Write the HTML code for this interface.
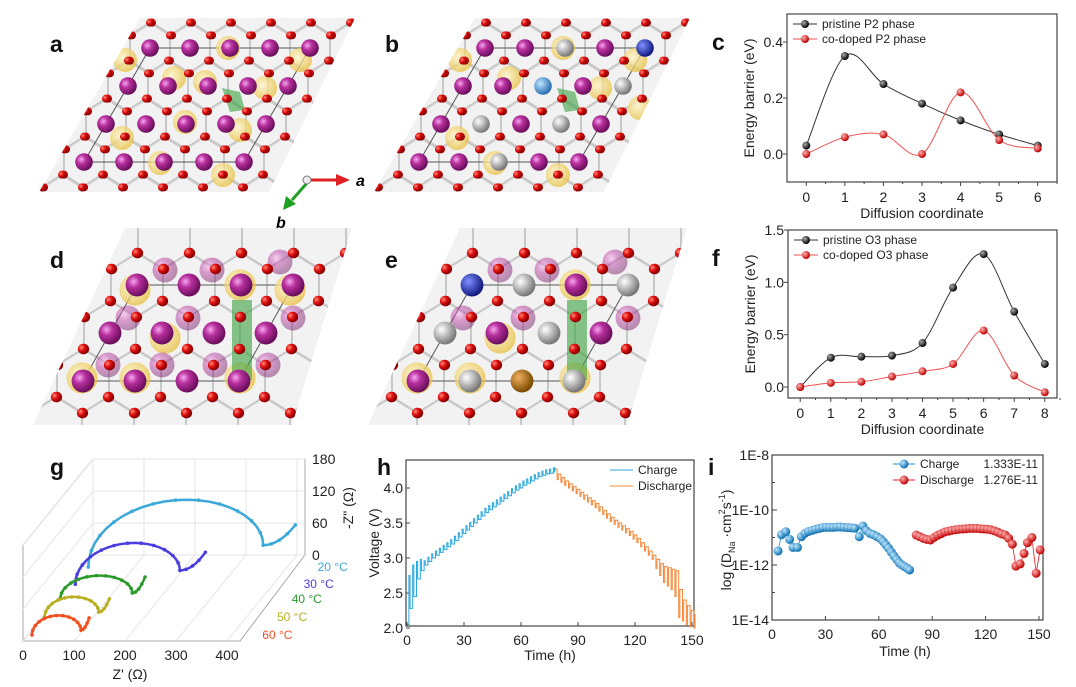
<!DOCTYPE html>
<html><head><meta charset="utf-8">
<style>
html,body{margin:0;padding:0;background:#fff;}
svg{display:block;font-family:"Liberation Sans",Arial,sans-serif;}
.tk{font-size:14px;fill:#222;}
.ttl{font-size:14px;fill:#222;}
.lab{font-size:23px;font-weight:bold;fill:#111;}
.leg{font-size:12px;fill:#222;}
</style></head>
<body>
<svg id="fig" width="1076" height="687" viewBox="0 0 1076 687" xmlns="http://www.w3.org/2000/svg">
<defs>
<radialGradient id="gPur" cx="35%" cy="35%" r="65%"><stop offset="0" stop-color="#f6a8f0"/><stop offset="0.4" stop-color="#b8309e"/><stop offset="1" stop-color="#6a0f5c"/></radialGradient>
<radialGradient id="gRed" cx="35%" cy="35%" r="65%"><stop offset="0" stop-color="#ff8a7a"/><stop offset="0.5" stop-color="#e01010"/><stop offset="1" stop-color="#8a0000"/></radialGradient>
<radialGradient id="gYel" cx="40%" cy="40%" r="60%"><stop offset="0" stop-color="#fff6c8"/><stop offset="1" stop-color="#e8c040"/></radialGradient>
<radialGradient id="gWht" cx="35%" cy="35%" r="65%"><stop offset="0" stop-color="#ffffff"/><stop offset="1" stop-color="#777"/></radialGradient>
<radialGradient id="gBlu" cx="35%" cy="35%" r="65%"><stop offset="0" stop-color="#bfe6ff"/><stop offset="1" stop-color="#2a70b0"/></radialGradient>
<radialGradient id="gDBlu" cx="35%" cy="35%" r="65%"><stop offset="0" stop-color="#8090ff"/><stop offset="1" stop-color="#101a80"/></radialGradient>
<radialGradient id="gBrn" cx="35%" cy="35%" r="65%"><stop offset="0" stop-color="#f0b060"/><stop offset="1" stop-color="#7a4a00"/></radialGradient>
<radialGradient id="gCB" cx="35%" cy="35%" r="65%"><stop offset="0" stop-color="#bfe8ff"/><stop offset="1" stop-color="#0a6eb0"/></radialGradient>
<radialGradient id="gCR" cx="35%" cy="35%" r="65%"><stop offset="0" stop-color="#ffb0b0"/><stop offset="1" stop-color="#c00000"/></radialGradient>
<radialGradient id="gBk" cx="35%" cy="35%" r="65%"><stop offset="0" stop-color="#aaa"/><stop offset="1" stop-color="#000"/></radialGradient>
<clipPath id="clipA"><polygon points="140,18 355,18 269,192 39,192"/></clipPath>
<clipPath id="clipB"><polygon points="475,18 690,18 604,192 374,192"/></clipPath>
<clipPath id="clipD"><polygon points="125,228 352,228 292,425 33,425"/></clipPath>
<clipPath id="clipE"><polygon points="460,228 687,228 627,425 368,425"/></clipPath>
</defs>
<g id="root"></g>
</svg>
<script>
// ---------- Panel c data ----------
const cX = [0,1,2,3,4,5,6];
const cPristine = [0.03,0.35,0.25,0.18,0.12,0.07,0.03];
const cDoped = [0.0,0.06,0.07,0.0,0.22,0.05,0.02];
const cYTicks = [0.0,0.2,0.4];
// ---------- Panel f data ----------
const fX = [0,1,2,3,4,5,6,7,8];
const fPristine = [0.0,0.28,0.29,0.30,0.42,0.95,1.27,0.72,0.22];
const fDoped = [0.0,0.04,0.05,0.10,0.15,0.22,0.54,0.11,-0.05];
const fYTicks = [0.0,0.5,1.0,1.5];
// ---------- Panel g data ----------
const gTemps = ["20 °C","30 °C","40 °C","50 °C","60 °C"];
const gDepth = [0.86,0.66,0.49,0.28,0.07];
const gRs = [10,12,6,4,8];
const gRm = [353,217,147,110,104];
const gPeak = [105,64,38,33,32];
const gZmin = [41,26,11,9,9];
const gEndX = [416,267,172,131,120];
const gEndY = [79,60,41,34,32];
const gXTicks = [0,100,200,300,400];
const gYTicks = [0,60,120,180];
// ---------- Panel h data ----------
const hChargeT = [1,3,5,7,9,11,13,15,17,19,21,23,25,27,29,31,33,35,37,39,41,43,45,47,49,51,53,55,57,59,61,63,65,67,69,71,73,75,77];
const hChargeOcv = [2.28,2.45,2.7,2.82,2.9,2.95,3.0,3.04,3.08,3.12,3.16,3.2,3.25,3.3,3.35,3.4,3.45,3.5,3.55,3.6,3.65,3.69,3.73,3.77,3.81,3.85,3.89,3.93,3.97,4.0,4.04,4.07,4.1,4.13,4.16,4.18,4.2,4.21,4.22];
const hChargePeak = [2.75,2.9,2.95,2.98,2.96,3.01,3.06,3.1,3.14,3.18,3.22,3.26,3.31,3.36,3.41,3.46,3.51,3.56,3.61,3.66,3.71,3.75,3.79,3.83,3.87,3.91,3.95,3.99,4.03,4.06,4.1,4.13,4.16,4.19,4.22,4.24,4.26,4.27,4.29];
const hDisT = [79,81,83,85,87,89,91,93,95,97,99,101,103,105,107,109,111,113,115,117,119,121,123,125,127,129,131,133,135,137,139,141,143,145,147,149,151];
const hDisOcv = [4.2,4.15,4.1,4.06,4.02,3.98,3.94,3.9,3.86,3.82,3.78,3.73,3.68,3.63,3.58,3.54,3.5,3.46,3.42,3.38,3.33,3.28,3.22,3.16,3.1,3.04,2.98,2.92,2.88,2.86,2.84,2.82,2.55,2.4,2.32,2.25,2.2];
const hDisLow = [4.12,4.08,4.04,4.0,3.96,3.92,3.88,3.84,3.8,3.76,3.72,3.67,3.62,3.57,3.52,3.48,3.44,3.4,3.36,3.32,3.27,3.22,3.16,3.1,3.04,2.98,2.85,2.75,2.65,2.6,2.55,2.45,2.15,2.1,2.05,2.02,2.0];
const hXTicks = [0,30,60,90,120,150];
const hYTicks = [2.0,2.5,3.0,3.5,4.0];
// ---------- Panel i data ----------
const iChargeT = [3.4,5.3,7.7,9.9,11.8,14.3,16.5,18.5,20.5,22.5,24.5,26.5,28.5,30.5,32.5,34.5,36.5,38.5,40.5,42.5,44.5,46.5,49,51,53,55,57,59,61,62.5,64,65.5,67,68.5,70,71.5,73,74.5,76,77.3];
const iChargeLog = [-11.49,-10.9,-10.79,-11.07,-11.36,-11.36,-10.97,-10.85,-10.78,-10.74,-10.7,-10.67,-10.64,-10.63,-10.63,-10.63,-10.62,-10.62,-10.63,-10.64,-10.65,-10.66,-10.97,-10.58,-10.75,-10.85,-10.9,-10.97,-11.05,-11.15,-11.27,-11.39,-11.53,-11.67,-11.8,-11.92,-12.0,-12.06,-12.12,-12.18];
const iDisT = [81,83,85,87,89,91,93,95,97,99,101,103,105,107,109,111,113,115,117,119,121,123,125,127,129,131,133,135,137,139.4,141.6,143.5,146,148.4,150.6];
const iDisLog = [-10.91,-10.97,-11.03,-11.07,-11.09,-11.0,-10.92,-10.86,-10.8,-10.77,-10.74,-10.72,-10.7,-10.69,-10.68,-10.67,-10.67,-10.67,-10.68,-10.69,-10.7,-10.72,-10.76,-10.81,-10.87,-10.91,-11.03,-11.24,-12.04,-11.96,-11.58,-11.19,-11.0,-12.3,-11.45];
const iYTicks = [-8,-10,-12,-14];
const iYLabels = ["1E-8","1E-10","1E-12","1E-14"];
const iXTicks = [0,30,60,90,120,150];

const NS="http://www.w3.org/2000/svg";
const root=document.getElementById('root');
function mk(tag,attrs,parent,text){const e=document.createElementNS(NS,tag);for(const k in attrs)e.setAttribute(k,attrs[k]);if(text!==undefined)e.textContent=text;(parent||root).appendChild(e);return e;}
function grp(name,parent){const g=mk('g',{},parent);


return g;}
function spline(pts){let d='M'+pts[0][0]+','+pts[0][1];for(let i=0;i<pts.length-1;i++){const p0=pts[Math.max(0,i-1)],p1=pts[i],p2=pts[i+1],p3=pts[Math.min(pts.length-1,i+2)];const c1=[p1[0]+(p2[0]-p0[0])/6,p1[1]+(p2[1]-p0[1])/6],c2=[p2[0]-(p3[0]-p1[0])/6,p2[1]-(p3[1]-p1[1])/6];d+=' C'+c1[0]+','+c1[1]+' '+c2[0]+','+c2[1]+' '+p2[0]+','+p2[1];}return d;}

// ---------- Crystal panels (decorative) ----------
function crystal(name,clip,ox,oy,sp,rowH,shift,rows,cols,extras){
  const g=grp(name);
  g.setAttribute('clip-path','url(#'+clip+')');
  const hx=(r,c)=>ox+c*sp+r*shift, hy=(r)=>oy+r*rowH;
  const hexPts=(cx,cy)=>[[cx,cy-2*rowH/3],[cx+sp/2,cy-rowH/3],[cx+sp/2,cy+rowH/3],[cx,cy+2*rowH/3],[cx-sp/2,cy+rowH/3],[cx-sp/2,cy-rowH/3]];
  for(let r=-1;r<=rows;r++)for(let c=-2;c<=cols+1;c++){
    const cx=hx(r,c),cy=hy(r);
    const h=mk('polygon',{points:hexPts(cx,cy).map(p=>p.join(',')).join(' '),fill:'#ececec','fill-opacity':0.7,stroke:'#c8c8c8','stroke-width':2},g);
    
    
  }
  const x0=hx(0,0),y0=hy(0),x1=hx(0,cols-1),x2=hx(rows-1,cols-1),y2=hy(rows-1),x3=hx(rows-1,0);
  mk('polygon',{points:`${x0},${y0} ${x1},${y0} ${x2},${y2} ${x3},${y2}`,fill:'none',stroke:'#555','stroke-width':1},g);
  (extras.yellow||[]).forEach(p=>{const e=mk('circle',{cx:p[0],cy:p[1],r:sp*0.3,fill:'url(#gYel)','fill-opacity':0.75},g);
    
    });
  (extras.ghost||[]).forEach(p=>{mk('circle',{cx:p[0],cy:p[1],r:sp*0.24,fill:'url(#gPur)','fill-opacity':0.45},g);});
  if(extras.green){const e=mk('polygon',{points:extras.green,fill:'#3aa040','fill-opacity':0.6},g);
    
    }
  const sub=extras.sub||{};
  for(let r=0;r<rows;r++)for(let c=0;c<cols;c++){
    const key=r+','+c;const f=sub[key]||'url(#gPur)';
    const e=mk('circle',{cx:hx(r,c),cy:hy(r),r:sp*0.22,fill:f},g);
    
    
  }
  const seen={};
  for(let r=-1;r<=rows;r++)for(let c=-2;c<=cols+1;c++){
    hexPts(hx(r,c),hy(r)).forEach(p=>{const k=Math.round(p[0])+'_'+Math.round(p[1]);if(seen[k])return;seen[k]=1;
      const e=mk('circle',{cx:p[0],cy:p[1],r:sp*0.1,fill:'url(#gRed)'},g);
      
      });
  }
}
crystal('structure-a','clipA',150,48,40,38,-22,4,5,{yellow:[[228,48],[125,60],[300,60],[174,78],[205,82],[265,88],[185,122],[240,130],[122,138],[160,163],[223,175]],green:'222,88 240,92 245,110 230,112'});
crystal('structure-b','clipB',485,48,40,38,-22,4,5,{yellow:[[563,48],[460,60],[635,60],[509,78],[600,88],[457,138],[495,163],[558,175],[640,108]],green:'557,88 575,92 580,110 565,112',sub:{'0,2':'url(#gWht)','1,2':'url(#gBlu)','2,1':'url(#gWht)','2,3':'url(#gWht)','3,2':'url(#gWht)','1,4':'url(#gWht)','0,4':'url(#gDBlu)'}});
crystal('structure-d','clipD',137,285,52,48,-27,3,4,{yellow:[[135,290],[240,285],[290,290],[165,338],[82,378],[135,378],[240,378]],ghost:[[165,270],[212,270],[280,262],[128,318],[188,318],[293,318],[108,365],[162,365],[215,365],[268,365]],green:'232,300 252,300 252,380 232,380'});
crystal('structure-e','clipE',472,285,52,48,-27,3,4,{yellow:[[575,285],[500,338],[417,378],[470,378],[575,378]],ghost:[[500,270],[547,270],[615,262],[463,318],[523,318],[628,318]],green:'567,300 587,300 587,380 567,380',sub:{'0,0':'url(#gDBlu)','0,1':'url(#gWht)','1,0':'url(#gWht)','1,2':'url(#gWht)','2,1':'url(#gWht)','2,2':'url(#gBrn)','2,3':'url(#gWht)','0,3':'url(#gWht)'}});

// axes indicator
(function(){const g=grp('axes-indicator');
mk('line',{x1:310,y1:180,x2:338,y2:180,stroke:'#e02020','stroke-width':3},g);
mk('polygon',{points:'336,174 350,180 336,186',fill:'#e02020'},g);
mk('line',{x1:307,y1:183,x2:292,y2:200,stroke:'#20a020','stroke-width':3},g);
mk('polygon',{points:'286,196 283,210 296,204',fill:'#20a020'},g);
mk('circle',{cx:307,cy:180,r:4,fill:'#eee',stroke:'#777'},g);
mk('text',{x:356,y:186,'font-size':16,'font-style':'italic','font-weight':'bold'},g,'a');
mk('text',{x:276,y:228,'font-size':16,'font-style':'italic','font-weight':'bold'},g,'b');})();

// panel letters
[['a',50,52],['b',385,52],['c',712,50],['d',50,268],['e',385,268],['f',712,266],['g',50,475],['h',377,475],['i',708,475]].forEach(l=>{
  const t=mk('text',{x:l[1],y:l[2],class:'lab'},root,l[0]);
  
  
});

// ---------- Energy barrier charts ----------
function energyChart(name,L,R,T,B,xmin,xmax,ymin,ymax,xs,s1,s2,yT,yfmt,legendTexts){
  const g=grp(name);
  const X=v=>L+ (v-xmin)/(xmax-xmin)*(R-L), Y=v=>B-(v-ymin)/(ymax-ymin)*(B-T);
  mk('rect',{x:L,y:T,width:R-L,height:B-T,fill:'none',stroke:'#444','stroke-width':1.2},g);
  xs.forEach(v=>{mk('line',{x1:X(v),y1:B,x2:X(v),y2:B+4,stroke:'#444'},g);
    const t=mk('text',{x:X(v),y:B+20,class:'tk','text-anchor':'middle'},g,String(v));
    
    
    if(v<xmax) mk('line',{x1:(X(v)+X(v+1))/2,y1:B,x2:(X(v)+X(v+1))/2,y2:B+2,stroke:'#444'},g);});
  yT.forEach(v=>{mk('line',{x1:L-4,y1:Y(v),x2:L,y2:Y(v),stroke:'#444'},g);
    const t=mk('text',{x:L-4,y:Y(v)+5,class:'tk','text-anchor':'end'},g,v.toFixed(yfmt));
    
    });
  const xt=mk('text',{x:(L+R)/2,y:B+36,class:'ttl','text-anchor':'middle'},g,'Diffusion coordinate');
  
  
  const yt=mk('text',{x:0,y:0,class:'ttl','font-size':13,'text-anchor':'middle',transform:`translate(${L-33},${(T+B)/2}) rotate(-90)`},g,'Energy barrier (eV)');
  
  
  [[s1,'#333','url(#gBk)','pristine'],[s2,'#f05050','url(#gCR)','co-doped']].forEach(s=>{
    const pts=xs.map((x,i)=>[X(x),Y(s[0][i])]);
    const p=mk('path',{d:spline(pts),fill:'none',stroke:s[1],'stroke-width':1},g);
    
    
    pts.forEach(q=>{const c=mk('circle',{cx:q[0],cy:q[1],r:4,fill:s[2]},g);
      
      });
  });
  legendTexts.forEach((lt,i)=>{const y=T+10+i*15;const lg=grp('legend-entry',g);
    mk('line',{x1:L+6,y1:y,x2:L+30,y2:y,stroke:i?'#f05050':'#333'},lg);
    mk('circle',{cx:L+18,cy:y,r:4,fill:i?'url(#gCR)':'url(#gBk)'},lg);
    mk('text',{x:L+35,y:y+4,class:'leg'},lg,lt);});
}
energyChart('chart-c-p2',787,1057,14,182,-0.5,6.5,-0.1,0.5,cX,cPristine,cDoped,cYTicks,1,['pristine P2 phase','co-doped P2 phase']);
energyChart('chart-f-o3',788,1057,230,398,-0.4,8.4,-0.105,1.5,fX,fPristine,fDoped,fYTicks,1,['pristine O3 phase','co-doped O3 phase']);

// ---------- Panel g ----------
(function(){const g=grp('chart-g-eis');
  const P=(zr,zi,d)=>[23+70*d+0.51*zr,641-86*d-0.533*zi];
  mk('polyline',{points:'23,641 240,641 305,555 93,555 23,641 23,545 93,459 305,459 305,555',fill:'none',stroke:'#aaa','stroke-width':1},g);
  mk('line',{x1:93,y1:459,x2:93,y2:555,stroke:'#aaa'},g);
  gXTicks.forEach(v=>{const a=P(v,0,0),b=P(v,0,1);mk('line',{x1:a[0],y1:a[1],x2:b[0],y2:b[1],stroke:'#e6e6e6'},g);
    mk('line',{x1:b[0],y1:b[1],x2:b[0],y2:459,stroke:'#e6e6e6'},g);
    const t=mk('text',{x:a[0],y:a[1]+19,class:'tk','text-anchor':'middle'},g,String(v));
    
    });
  gYTicks.forEach(v=>{const b=P(0,v,1);mk('line',{x1:93,y1:b[1],x2:305,y2:b[1],stroke:'#e6e6e6'},g);
    mk('line',{x1:93,y1:b[1],x2:23,y2:b[1]+86,stroke:'#e6e6e6'},g);
    const t=mk('text',{x:312,y:b[1]+5,class:'tk'},g,String(v));
    
    });
  const zt=mk('text',{x:0,y:0,class:'ttl','text-anchor':'middle',transform:'translate(353,508) rotate(-90)'},g,'-Z" (Ω)');
  
  
  const xt=mk('text',{x:130,y:679,class:'ttl','text-anchor':'middle'},g,"Z' (Ω)");
  
  
  const cols=['#3aa8d8','#4a3de0','#2a9a2a','#b8b020','#f05020'];
  gTemps.forEach((tn,i)=>{const d=gDepth[i];const pts=[];const c=(gRs[i]+gRm[i])/2,r=(gRm[i]-gRs[i])/2;
    for(let k=0;k<=24;k++){const t=Math.PI*k/24;pts.push(P(c-r*Math.cos(t),gPeak[i]*Math.sin(t)+gZmin[i]*k/24,d));}
    for(let k=1;k<=8;k++){const u=k/8;pts.push(P(gRm[i]+(gEndX[i]-gRm[i])*u,gZmin[i]+(gEndY[i]-gZmin[i])*u*u,d));}
    const p=mk('polyline',{points:pts.map(q=>q.join(',')).join(' '),fill:'none',stroke:cols[i],'stroke-width':2.5,'stroke-linecap':'round'},g);
    
    
    pts.forEach((q,k)=>{if(k%2==0)mk('circle',{cx:q[0],cy:q[1],r:1.8,fill:cols[i]},g);});
    const b=P(440,0,d);
    const t=mk('text',{x:b[0]+10,y:b[1]+4,'font-size':12,fill:cols[i]},g,tn);
    
    
  });
})();

// ---------- Panel h ----------
(function(){const g=grp('chart-h-gitt');
  const L=406,R=694,T=460,B=626;
  const X=v=>407+v*(692-407)/150, Y=v=>628-(v-2.0)*70;
  mk('rect',{x:L,y:T,width:R-L,height:B-T,fill:'none',stroke:'#444','stroke-width':1.2},g);
  hXTicks.forEach(v=>{mk('line',{x1:X(v),y1:B,x2:X(v),y2:B-4,stroke:'#444'},g);
    const t=mk('text',{x:X(v),y:B+19,class:'tk','text-anchor':'middle'},g,String(v));
    
    });
  hYTicks.forEach(v=>{mk('line',{x1:L,y1:Y(v),x2:L+4,y2:Y(v),stroke:'#444'},g);
    const t=mk('text',{x:L-3,y:Y(v)+5,class:'tk','text-anchor':'end'},g,v.toFixed(1));
    
    });
  const xt=mk('text',{x:550,y:660,class:'ttl','text-anchor':'middle'},g,'Time (h)');
  
  
  const yt=mk('text',{x:0,y:0,class:'ttl','text-anchor':'middle',transform:'translate(379,543) rotate(-90)'},g,'Voltage (V)');
  
  
  let pts=[[X(0.3),Y(2.05)]];let prev=2.05;
  hChargeT.forEach((t,i)=>{pts.push([X(t),Y(prev)],[X(t),Y(hChargePeak[i])],[X(t+0.6),Y(hChargePeak[i])],[X(t+0.6),Y(hChargeOcv[i])]);prev=hChargeOcv[i];});
  pts.push([X(78),Y(hChargePeak[hChargePeak.length-1])]);
  const pc=mk('polyline',{points:pts.map(q=>q.join(',')).join(' '),fill:'none',stroke:'#29a9e0','stroke-width':1},g);
  
  
  pts=[[X(78),Y(4.27)]];prev=4.27;
  hDisT.forEach((t,i)=>{pts.push([X(t),Y(prev)],[X(t),Y(hDisLow[i])],[X(t+0.6),Y(hDisLow[i])],[X(t+0.6),Y(hDisOcv[i])]);prev=hDisOcv[i];});
  const pd=mk('polyline',{points:pts.map(q=>q.join(',')).join(' '),fill:'none',stroke:'#f5883a','stroke-width':1},g);
  
  
  [['Charge','#29a9e0',470],['Discharge','#f5883a',486]].forEach(l=>{const lg=grp('legend-entry',g);
    mk('line',{x1:610,y1:l[2],x2:633,y2:l[2],stroke:l[1]},lg);
    mk('text',{x:638,y:l[2]+4,class:'leg'},lg,l[0]);});
})();

// ---------- Panel i ----------
(function(){const g=grp('chart-i-diffusion');
  const L=772,R=1043,T=455,B=620;
  const X=v=>772+v*(1039-772)/150, Y=v=>455+(-8-v)*27.5;
  mk('rect',{x:L,y:T,width:R-L,height:B-T,fill:'none',stroke:'#444','stroke-width':1.2},g);
  iXTicks.forEach(v=>{mk('line',{x1:X(v),y1:B,x2:X(v),y2:B-4,stroke:'#444'},g);
    const t=mk('text',{x:X(v),y:B+19,class:'tk','text-anchor':'middle'},g,String(v));
    
    });
  iYTicks.forEach((v,i)=>{mk('line',{x1:L,y1:Y(v),x2:L+5,y2:Y(v),stroke:'#444'},g);
    if(v>-14) mk('line',{x1:L,y1:Y(v-1),x2:L+3,y2:Y(v-1),stroke:'#444'},g);
    const t=mk('text',{x:L-3,y:Y(v)+5,class:'tk','text-anchor':'end'},g,iYLabels[i]);
    
    });
  const xt=mk('text',{x:905,y:656,class:'ttl','text-anchor':'middle'},g,'Time (h)');
  
  
  const yt=mk('text',{x:0,y:0,class:'ttl','text-anchor':'middle',transform:'translate(731,540) rotate(-90)'},g);
  
  
  yt.innerHTML='log (D<tspan font-size="9" dy="4">Na</tspan><tspan dy="-4"> ·cm</tspan><tspan font-size="9" dy="-6">2</tspan><tspan dy="6">s</tspan><tspan font-size="9" dy="-6">-1</tspan><tspan dy="6">)</tspan>';
  [[iChargeT,iChargeLog,'#1a8fd0','url(#gCB)','charge'],[iDisT,iDisLog,'#e41a1c','url(#gCR)','discharge']].forEach(s=>{
    const pts=s[0].map((t,i)=>[X(t),Y(s[1][i])]);
    mk('polyline',{points:pts.map(q=>q.join(',')).join(' '),fill:'none',stroke:s[2],'stroke-width':0.8},g);
    pts.forEach(q=>{const c=mk('circle',{cx:q[0],cy:q[1],r:4.5,fill:s[3]},g);
      
      });
  });
  [['Charge','1.333E-11','#1a8fd0','url(#gCB)',464],['Discharge','1.276E-11','#e41a1c','url(#gCR)',480]].forEach(l=>{const lg=grp('legend-entry',g);
    mk('line',{x1:893,y1:l[4],x2:915,y2:l[4],stroke:l[2]},lg);
    mk('circle',{cx:904,cy:l[4],r:4.5,fill:l[3]},lg);
    mk('text',{x:920,y:l[4]+4,class:'leg','font-size':11},lg,l[0]);
    mk('text',{x:1038,y:l[4]+4,class:'leg','font-size':11,'text-anchor':'end'},lg,l[1]);});
})();
</script>
</body></html>
